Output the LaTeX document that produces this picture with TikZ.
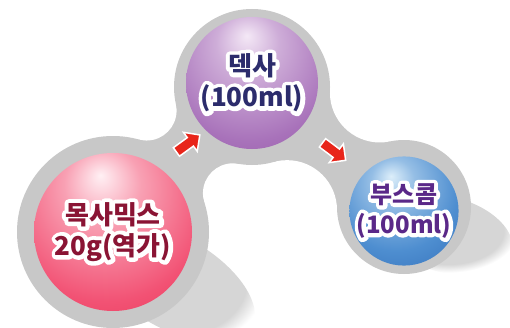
\documentclass[tikz,border=0pt]{standalone}
\usepackage{fontspec}
\newfontfamily\kr{Noto Sans CJK KR}
\newfontfamily\krhalo[FakeBold=32,BoldFeatures={FakeBold=32}]{Noto Sans CJK KR}
\usetikzlibrary{shapes.arrows,intersections,fadings,calc}
\newcommand\halo[1]{\leavevmode\rlap{\pgfsetroundjoin\color{white}\krhalo #1}#1}
\definecolor{ringgray}{HTML}{C8C8C8}
\definecolor{pinkhi}{HTML}{FFF0F4}
\definecolor{pinkmid}{HTML}{F25274}
\definecolor{pinkedge}{HTML}{E02444}
\definecolor{pinkdeep}{HTML}{C8102E}
\definecolor{purhi}{HTML}{F4E8F6}
\definecolor{purmid}{HTML}{A872BA}
\definecolor{puredge}{HTML}{8C4C9E}
\definecolor{purdeep}{HTML}{703080}
\definecolor{bluhi}{HTML}{DCEEFA}
\definecolor{blumid}{HTML}{4E8ED0}
\definecolor{bluedge}{HTML}{2862B0}
\definecolor{bludeep}{HTML}{16468E}
\definecolor{pinktext}{HTML}{8A1434}
\definecolor{purtext}{HTML}{2C2C6C}
\definecolor{blutext}{HTML}{5A2888}
\definecolor{arrowred}{HTML}{E8251A}
\pgfdeclareradialshading{pinkball}{\pgfpoint{-4bp}{18bp}}{color(0bp)=(pinkhi); color(12bp)=(pinkmid!50!pinkhi); color(32bp)=(pinkmid); color(54bp)=(pinkedge); color(72bp)=(pinkdeep)}
\pgfdeclareradialshading{purball}{\pgfpoint{-2bp}{18bp}}{color(0bp)=(purhi); color(12bp)=(purmid!50!purhi); color(32bp)=(purmid); color(54bp)=(puredge); color(72bp)=(purdeep)}
\pgfdeclareradialshading{bluball}{\pgfpoint{-6bp}{16bp}}{color(0bp)=(bluhi); color(10bp)=(blumid!50!bluhi); color(28bp)=(blumid); color(52bp)=(bluedge); color(72bp)=(bludeep)}
\tikzset{
  ring/.style={fill=ringgray},
  ball/.style={circle, inner sep=0pt, align=center, line join=round, font=\kr\bfseries\fontsize{26}{32}\selectfont},
  shadowblob/.style={fill=black!16, path fading=circle with fuzzy edge 20 percent},
  flowarrow/.style={single arrow, fill=arrowred, draw=white, line width=1.5pt,
    inner xsep=0pt, inner ysep=4.5pt, minimum height=29pt, single arrow head extend=6.5pt}
}
\begin{document}
\begin{tikzpicture}[x=1pt,y=1pt]
\useasboundingbox[fill=white] (0,0) rectangle (510,327);
\coordinate (pkc) at (113,95);
\coordinate (puc) at (252,240);
\coordinate (blc) at (404,120);
% necks
\path[name path=n1a] (pkc) circle[radius=126];
\path[name path=n1b] (puc) circle[radius=108];
\path[name intersections={of=n1a and n1b, name=fa}];
\path[name path=n2a] (puc) circle[radius=128];
\path[name path=n2b] (blc) circle[radius=117];
\path[name intersections={of=n2a and n2b, name=fb}];
\fill[ring] (pkc) -- (fa-1) -- (puc) -- (fa-2) -- cycle;
\fill[ring] (puc) -- (fb-1) -- (blc) -- (fb-2) -- cycle;
\fill[white] (fa-1) circle[radius=30] (fa-2) circle[radius=30];
\fill[white] (fb-1) circle[radius=50] (fb-2) circle[radius=50];
% shadows
\fill[shadowblob, rotate around={-30:(172,45)}] (172,45) ellipse[x radius=92, y radius=46];
\fill[shadowblob, rotate around={-15:(448,92)}] (448,92) ellipse[x radius=66, y radius=38];
% rings
\fill[ring] (pkc) circle[radius=96];
\fill[ring] (puc) circle[radius=78];
\fill[ring] (blc) circle[radius=67];
% balls
\node[ball, minimum size=158pt, shading=pinkball, text=pinktext] (pk) at (pkc)
  {\halo{목사믹스}\\[-1pt]\halo{20g(역가)}};
\node[ball, minimum size=132pt, shading=purball, text=purtext] (pu) at ([yshift=4pt]puc)
  {\halo{덱사}\\[-1pt]\halo{(100ml)}};
\node[ball, minimum size=108pt, shading=bluball, text=blutext, font=\kr\bfseries\fontsize{24}{31}\selectfont] (bl) at ([yshift=-4pt]blc)
  {\halo{부스콤}\\[-1pt]\halo{(100ml)}};
% arrows
\node[flowarrow, rotate=36] (ar1) at (186,182) {};
\node[flowarrow, rotate=-37] (ar2) at (332,177) {};
\end{tikzpicture}
\end{document}
